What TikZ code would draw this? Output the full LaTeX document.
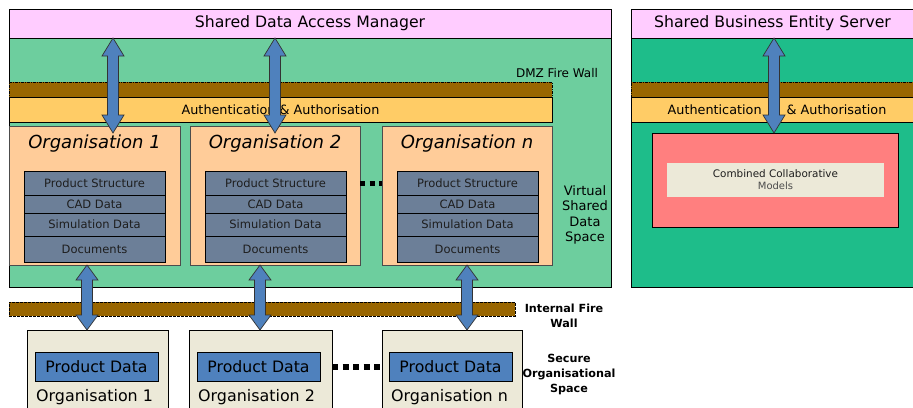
\documentclass[tikz,border=0pt]{standalone}
\usepackage{fontspec}
\setmainfont{DejaVu Sans}
\usetikzlibrary{calc}
\definecolor{pinkbar}{HTML}{FFCCFF}
\definecolor{mint}{HTML}{6DCE9E}
\definecolor{jade}{HTML}{1EBD8A}
\definecolor{wallbrown}{HTML}{996600}
\definecolor{authyellow}{HTML}{FFCC66}
\definecolor{peach}{HTML}{FFCC99}
\definecolor{slate}{HTML}{6C7F98}
\definecolor{flowblue}{HTML}{4F81BD}
\definecolor{salmon}{HTML}{FF7F7F}
\definecolor{cream}{HTML}{ECE9D8}
\definecolor{inkgrey}{HTML}{1E1E1E}

\tikzset{
  panel/.style={draw=black, line width=0.8pt, inner sep=0pt, outer sep=0pt, anchor=north west},
  wall/.style={panel, fill=wallbrown, dash pattern=on 3pt off 1pt on 1pt off 1pt},
  orgbox/.style={panel, draw=black!70, line width=0.6pt, fill=peach},
  cell/.style={panel, line width=0.6pt, fill=slate, text=inkgrey, font=\fontsize{11.5}{13}\selectfont, minimum width=141pt},
  localbox/.style={panel, fill=cream, minimum height=85pt},
  datacell/.style={panel, fill=flowblue, minimum width=123pt, minimum height=29pt, font=\fontsize{15.7}{17}\selectfont},
  flowarrow/.style={draw=black!80, line width=0.7pt, fill=flowblue, line join=miter},
  dotline/.style={line width=#1, dash pattern=on #1 off 4.5pt},
  label/.style={inner sep=0pt, align=center},
}

% vertical double-headed arrow between two named points (top, bottom)
\newcommand{\twoway}[3][18]{%
  \draw[flowarrow] let \p1=(#2), \p2=(#3) in
    (\x1,\y1) -- (\x1+11pt,\y1-#1pt) -- (\x1+5.5pt,\y1-#1pt) -- (\x1+5.5pt,\y2+#1pt)
    -- (\x1+11pt,\y2+#1pt) -- (\x1,\y2) -- (\x1-11pt,\y2+#1pt) -- (\x1-5.5pt,\y2+#1pt)
    -- (\x1-5.5pt,\y1-#1pt) -- (\x1-11pt,\y1-#1pt) -- cycle;}

\begin{document}
\begin{tikzpicture}[x=1pt,y=-1pt]
\useasboundingbox (0,0) rectangle (913,407);

% ---------- virtual shared data space ----------
\node[panel, fill=mint, minimum width=602pt, minimum height=249pt] (vsds) at (9,38) {};
\node[panel, fill=pinkbar, minimum width=602pt, minimum height=29pt,
      font=\fontsize{15.7}{17}\selectfont] (sdam) at (9,9) {Shared Data Access Manager};
\node[wall, minimum width=543pt, minimum height=15pt] (dmz) at (9,82) {};
\node[panel, fill=authyellow, minimum width=543pt, minimum height=25pt,
      font=\fontsize{12.8}{14}\selectfont] (auth) at (9,97) {Authentication \& Authorisation};
\node[label, font=\fontsize{12}{14}\selectfont] (dmzlabel) at (557,73) {DMZ Fire Wall};

% organisations inside the shared space
\foreach \name/\ox/\w/\title in {orgA/9/171/Organisation 1, orgB/190/170/Organisation 2, orgN/382/170/Organisation n}{
  \node[orgbox, minimum width=\w pt, minimum height=139pt] (\name) at (\ox,126) {};
  \node[label, font=\fontsize{18}{20}\selectfont\itshape] (\name-title) at ($(\name.north)+(0,17.5)$) {\title};
}
\foreach \name/\sx in {orgA/24, orgB/205, orgN/397}{
  \node[cell, minimum height=24pt] (\name-ps)  at (\sx,171) {Product Structure};
  \node[cell, minimum height=18pt] (\name-cad) at (\sx,195) {CAD Data};
  \node[cell, minimum height=23pt] (\name-sim) at (\sx,213) {Simulation Data};
  \node[cell, minimum height=26pt] (\name-doc) at (\sx,236) {Documents};
}
\draw[dotline=5pt] (orgB.east |- 0,183) -- (orgN.west |- 0,183);

\node[label, font=\fontsize{13}{15.5}\selectfont] (vsdslabel) at (585,215) {Virtual\\Shared\\Data\\Space};

% ---------- shared business entity server ----------
\node[panel, fill=jade, minimum width=283pt, minimum height=249pt] (sbesarea) at (631,38) {};
\node[panel, fill=pinkbar, minimum width=283pt, minimum height=29pt,
      font=\fontsize{15.7}{17}\selectfont] (sbes) at (631,9) {Shared Business Entity Server};
\node[wall, minimum width=283pt, minimum height=15pt] (dmzR) at (631,82) {};
\node[panel, fill=authyellow, minimum width=283pt, minimum height=25pt] (authR) at (631,97) {};
\node[label, font=\fontsize{12.8}{14}\selectfont] (authRtext) at (777,110) {Authentication\hspace{25pt}\& Authorisation};
\node[panel, fill=salmon, minimum width=246pt, minimum height=94pt] (models) at (652,133) {};
\node[panel, draw=none, fill=cream, minimum width=217pt, minimum height=34pt] (ccm) at (667,163) {};
\node[label, font=\fontsize{10.4}{12}\selectfont, text=inkgrey] (ccmtext) at (ccm.center)
  {Combined Collaborative\\{\fontsize{10}{12}\selectfont\color{black!70}Models}};

% ---------- internal fire wall ----------
\node[wall, dash pattern=on 3pt off 1pt, minimum width=506pt, minimum height=14pt] (intwall) at (9,302) {};
\node[label, font=\fontsize{11.2}{15}\selectfont\bfseries] (intlabel) at (564,316) {Internal Fire\\Wall};
\node[label, font=\fontsize{11.2}{15}\selectfont\bfseries] (seclabel) at (569,375) {Secure\\Organisational\\Space};

% ---------- secure organisational space ----------
\foreach \name/\bx/\w/\dx/\title in {locA/27/141/35/Organisation 1, locB/189/143/197/Organisation 2, locN/382/140/389/Organisation n}{
  \node[localbox, minimum width=\w pt] (\name) at (\bx,330) {};
  \node[datacell] (\name-pd) at (\dx,352) {Product Data};
  \node[label, anchor=west, font=\fontsize{15.9}{17}\selectfont] (\name-title) at (\bx+9,397) {\title};
}
\draw[dotline=6pt] (locB.east |- 0,367) -- (locN.west |- 0,367);

% ---------- data flows ----------
\coordinate (upA)  at (113,38);  \coordinate (dnA)  at (113,133);
\coordinate (upB)  at (275,38);  \coordinate (dnB)  at (275,133);
\coordinate (upR)  at (774,38);  \coordinate (dnR)  at (774,133);
\coordinate (loA1) at (87,265);  \coordinate (loA2) at (87,330);
\coordinate (loB1) at (260,265); \coordinate (loB2) at (260,330);
\coordinate (loN1) at (467,265); \coordinate (loN2) at (467,330);
\twoway{upA}{dnA}
\twoway{upB}{dnB}
\twoway{upR}{dnR}
\twoway[15]{loA1}{loA2}
\twoway[15]{loB1}{loB2}
\twoway[15]{loN1}{loN2}
\end{tikzpicture}
\end{document}
